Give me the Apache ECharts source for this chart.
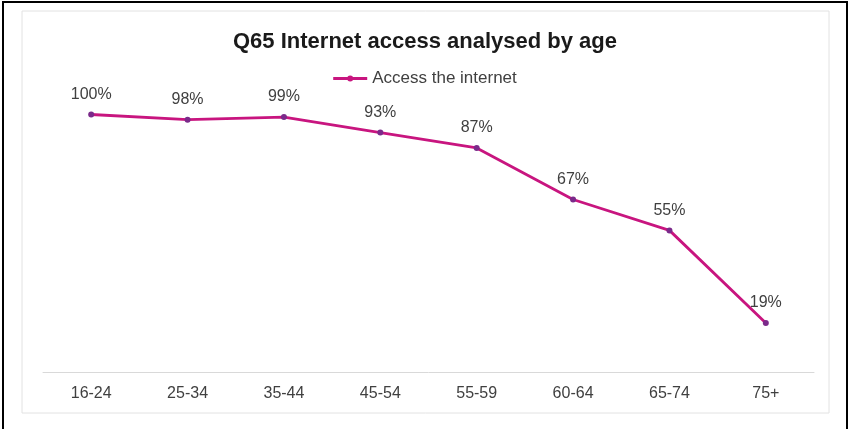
<!DOCTYPE html>
<html><head><meta charset="utf-8">
<script src="https://cdn.jsdelivr.net/npm/echarts@6/dist/echarts.min.js"></script>
<style>html,body{margin:0;padding:0;background:#fff}#c{width:850px;height:429px}</style>
</head><body><div id="c"></div>
<script>
const categories = ['16-24','25-34','35-44','45-54','55-59','60-64','65-74','75+'];
const accessValues = [100, 98, 99, 93, 87, 67, 55, 19];
const seriesName = 'Access the internet';
const titleText = 'Q65 Internet access analysed by age';

const chart = echarts.init(document.getElementById('c'));
chart.setOption({
  animation: false,
  backgroundColor: '#fff',
  title: {
    text: titleText, left: 'center', top: 26,
    textStyle: {fontFamily: 'Liberation Sans, Arial', fontSize: 22, fontWeight: 'bold', color: '#1a1a1a'}
  },
  legend: {
    top: 65, left: 'center', itemWidth: 34, itemHeight: 10, itemGap: 3,
    textStyle: {fontFamily: 'Liberation Sans, Arial', fontSize: 17, color: '#404040'},
    data: [{name: seriesName, itemStyle: {color: '#C8157F'},
            icon: 'path://M0,3.6 L34,3.6 L34,6.4 L0,6.4 Z M14,5 A3,3 0 1 1 20,5 A3,3 0 1 1 14,5 Z'}]
  },
  graphic: [
    {type: 'polyline', shape: {points: [[3, 429], [3, 2], [847, 2], [847, 429]]}, style: {stroke: '#000', lineWidth: 2, fill: null}},
    {type: 'rect', shape: {x: 22, y: 11, width: 807, height: 402}, style: {stroke: '#e2e2e2', lineWidth: 1, fill: null}}
  ],
  grid: {left: 43, right: 36, top: 63, bottom: 57, containLabel: false},
  xAxis: {
    type: 'category', data: categories, boundaryGap: true,
    axisLine: {lineStyle: {color: '#d9d9d9', width: 1}},
    axisTick: {show: false},
    axisLabel: {fontFamily: 'Liberation Sans, Arial', fontSize: 16, color: '#404040', margin: 14}
  },
  yAxis: {
    type: 'value', min: 0, max: 120, interval: 20, show: false,
    splitLine: {show: false}
  },
  series: [{
    name: seriesName, type: 'line', data: accessValues,
    symbol: 'circle', symbolSize: 6,
    lineStyle: {color: '#C8157F', width: 2.8},
    itemStyle: {color: '#7B2A8A'},
    label: {
      show: true, position: 'top', distance: 9, formatter: '{c}%',
      fontFamily: 'Liberation Sans, Arial', fontSize: 16, color: '#404040'
    }
  }],
  color: ['#C8157F']
});
</script></body></html>
